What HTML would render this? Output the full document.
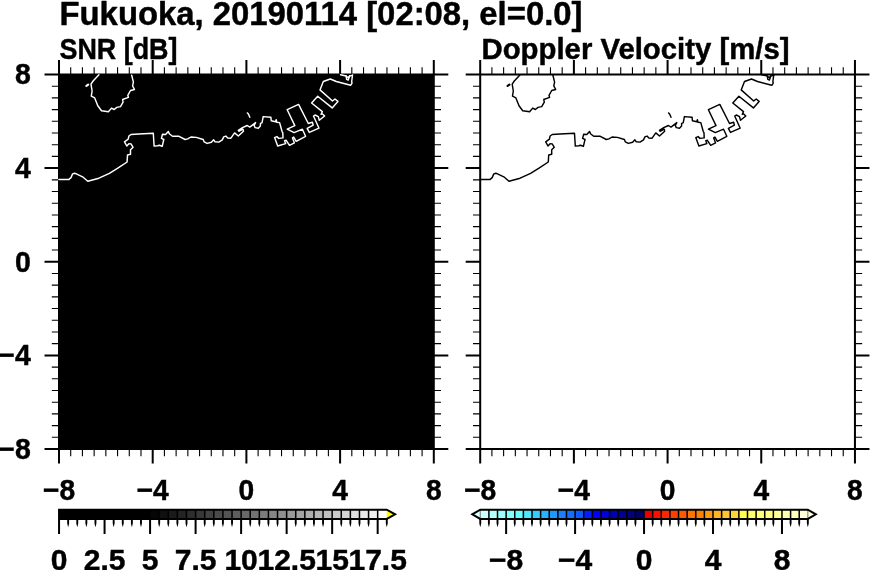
<!DOCTYPE html>
<html><head><meta charset="utf-8"><title>Fukuoka radar</title>
<style>
html,body{margin:0;padding:0;background:#fff;}
body{width:870px;height:570px;overflow:hidden;font-family:"Liberation Sans",sans-serif;}
svg{display:block;}
svg{will-change:transform;}
</style></head><body>
<svg width="870" height="570" viewBox="0 0 870 570">
<rect width="870" height="570" fill="#fff"/>
<rect x="59.00" y="74.50" width="374.80" height="374.50" fill="#000"/><path d="M70.71 74.50V67.30M70.71 449.00V456.20M59.00 86.20H51.80M433.80 86.20H441.00M82.42 74.50V67.30M82.42 449.00V456.20M59.00 97.91H51.80M433.80 97.91H441.00M94.14 74.50V67.30M94.14 449.00V456.20M59.00 109.61H51.80M433.80 109.61H441.00M105.85 74.50V67.30M105.85 449.00V456.20M59.00 121.31H51.80M433.80 121.31H441.00M117.56 74.50V67.30M117.56 449.00V456.20M59.00 133.02H51.80M433.80 133.02H441.00M129.28 74.50V67.30M129.28 449.00V456.20M59.00 144.72H51.80M433.80 144.72H441.00M140.99 74.50V67.30M140.99 449.00V456.20M59.00 156.42H51.80M433.80 156.42H441.00M164.41 74.50V67.30M164.41 449.00V456.20M59.00 179.83H51.80M433.80 179.83H441.00M176.12 74.50V67.30M176.12 449.00V456.20M59.00 191.53H51.80M433.80 191.53H441.00M187.84 74.50V67.30M187.84 449.00V456.20M59.00 203.23H51.80M433.80 203.23H441.00M199.55 74.50V67.30M199.55 449.00V456.20M59.00 214.94H51.80M433.80 214.94H441.00M211.26 74.50V67.30M211.26 449.00V456.20M59.00 226.64H51.80M433.80 226.64H441.00M222.97 74.50V67.30M222.97 449.00V456.20M59.00 238.34H51.80M433.80 238.34H441.00M234.69 74.50V67.30M234.69 449.00V456.20M59.00 250.05H51.80M433.80 250.05H441.00M258.11 74.50V67.30M258.11 449.00V456.20M59.00 273.45H51.80M433.80 273.45H441.00M269.83 74.50V67.30M269.83 449.00V456.20M59.00 285.16H51.80M433.80 285.16H441.00M281.54 74.50V67.30M281.54 449.00V456.20M59.00 296.86H51.80M433.80 296.86H441.00M293.25 74.50V67.30M293.25 449.00V456.20M59.00 308.56H51.80M433.80 308.56H441.00M304.96 74.50V67.30M304.96 449.00V456.20M59.00 320.27H51.80M433.80 320.27H441.00M316.68 74.50V67.30M316.68 449.00V456.20M59.00 331.97H51.80M433.80 331.97H441.00M328.39 74.50V67.30M328.39 449.00V456.20M59.00 343.67H51.80M433.80 343.67H441.00M351.81 74.50V67.30M351.81 449.00V456.20M59.00 367.08H51.80M433.80 367.08H441.00M363.53 74.50V67.30M363.53 449.00V456.20M59.00 378.78H51.80M433.80 378.78H441.00M375.24 74.50V67.30M375.24 449.00V456.20M59.00 390.48H51.80M433.80 390.48H441.00M386.95 74.50V67.30M386.95 449.00V456.20M59.00 402.19H51.80M433.80 402.19H441.00M398.66 74.50V67.30M398.66 449.00V456.20M59.00 413.89H51.80M433.80 413.89H441.00M410.38 74.50V67.30M410.38 449.00V456.20M59.00 425.59H51.80M433.80 425.59H441.00M422.09 74.50V67.30M422.09 449.00V456.20M59.00 437.30H51.80M433.80 437.30H441.00" stroke="#000" stroke-width="1.1" fill="none"/><path d="M59.00 74.50V60.00M59.00 449.00V463.50M59.00 74.50H44.50M433.80 74.50H448.30M152.70 74.50V60.00M152.70 449.00V463.50M59.00 168.12H44.50M433.80 168.12H448.30M246.40 74.50V60.00M246.40 449.00V463.50M59.00 261.75H44.50M433.80 261.75H448.30M340.10 74.50V60.00M340.10 449.00V463.50M59.00 355.38H44.50M433.80 355.38H448.30M433.80 74.50V60.00M433.80 449.00V463.50M59.00 449.00H44.50M433.80 449.00H448.30" stroke="#000" stroke-width="2" fill="none"/><rect x="59.00" y="74.50" width="374.80" height="374.50" fill="none" stroke="#000" stroke-width="2"/><path d="M491.91 74.50V67.30M491.91 449.00V456.20M480.20 86.20H473.00M854.95 86.20H862.15M503.62 74.50V67.30M503.62 449.00V456.20M480.20 97.91H473.00M854.95 97.91H862.15M515.33 74.50V67.30M515.33 449.00V456.20M480.20 109.61H473.00M854.95 109.61H862.15M527.04 74.50V67.30M527.04 449.00V456.20M480.20 121.31H473.00M854.95 121.31H862.15M538.75 74.50V67.30M538.75 449.00V456.20M480.20 133.02H473.00M854.95 133.02H862.15M550.47 74.50V67.30M550.47 449.00V456.20M480.20 144.72H473.00M854.95 144.72H862.15M562.18 74.50V67.30M562.18 449.00V456.20M480.20 156.42H473.00M854.95 156.42H862.15M585.60 74.50V67.30M585.60 449.00V456.20M480.20 179.83H473.00M854.95 179.83H862.15M597.31 74.50V67.30M597.31 449.00V456.20M480.20 191.53H473.00M854.95 191.53H862.15M609.02 74.50V67.30M609.02 449.00V456.20M480.20 203.23H473.00M854.95 203.23H862.15M620.73 74.50V67.30M620.73 449.00V456.20M480.20 214.94H473.00M854.95 214.94H862.15M632.44 74.50V67.30M632.44 449.00V456.20M480.20 226.64H473.00M854.95 226.64H862.15M644.15 74.50V67.30M644.15 449.00V456.20M480.20 238.34H473.00M854.95 238.34H862.15M655.86 74.50V67.30M655.86 449.00V456.20M480.20 250.05H473.00M854.95 250.05H862.15M679.29 74.50V67.30M679.29 449.00V456.20M480.20 273.45H473.00M854.95 273.45H862.15M691.00 74.50V67.30M691.00 449.00V456.20M480.20 285.16H473.00M854.95 285.16H862.15M702.71 74.50V67.30M702.71 449.00V456.20M480.20 296.86H473.00M854.95 296.86H862.15M714.42 74.50V67.30M714.42 449.00V456.20M480.20 308.56H473.00M854.95 308.56H862.15M726.13 74.50V67.30M726.13 449.00V456.20M480.20 320.27H473.00M854.95 320.27H862.15M737.84 74.50V67.30M737.84 449.00V456.20M480.20 331.97H473.00M854.95 331.97H862.15M749.55 74.50V67.30M749.55 449.00V456.20M480.20 343.67H473.00M854.95 343.67H862.15M772.97 74.50V67.30M772.97 449.00V456.20M480.20 367.08H473.00M854.95 367.08H862.15M784.68 74.50V67.30M784.68 449.00V456.20M480.20 378.78H473.00M854.95 378.78H862.15M796.40 74.50V67.30M796.40 449.00V456.20M480.20 390.48H473.00M854.95 390.48H862.15M808.11 74.50V67.30M808.11 449.00V456.20M480.20 402.19H473.00M854.95 402.19H862.15M819.82 74.50V67.30M819.82 449.00V456.20M480.20 413.89H473.00M854.95 413.89H862.15M831.53 74.50V67.30M831.53 449.00V456.20M480.20 425.59H473.00M854.95 425.59H862.15M843.24 74.50V67.30M843.24 449.00V456.20M480.20 437.30H473.00M854.95 437.30H862.15" stroke="#000" stroke-width="1.1" fill="none"/><path d="M480.20 74.50V60.00M480.20 449.00V463.50M480.20 74.50H465.70M854.95 74.50H869.45M573.89 74.50V60.00M573.89 449.00V463.50M480.20 168.12H465.70M854.95 168.12H869.45M667.58 74.50V60.00M667.58 449.00V463.50M480.20 261.75H465.70M854.95 261.75H869.45M761.26 74.50V60.00M761.26 449.00V463.50M480.20 355.38H465.70M854.95 355.38H869.45M854.95 74.50V60.00M854.95 449.00V463.50M480.20 449.00H465.70M854.95 449.00H869.45" stroke="#000" stroke-width="2" fill="none"/><rect x="480.20" y="74.50" width="374.75" height="374.50" fill="none" stroke="#000" stroke-width="2"/><g fill="none" stroke="#fff" stroke-width="1.45" stroke-linejoin="round" stroke-linecap="round"><polyline points="98.9,74.7 93.1,81.0 91.0,84.2 92.1,91.0 91.3,96.1 94.7,97.9 97.8,105.8 101.5,110.8 108.4,111.8 111.5,108.1 114.2,109.5 116.8,107.4 120.5,106.6 123.1,102.1 122.6,99.5 128.4,97.4 127.8,95.3 130.5,90.5 134.5,89.5 132.6,85.8 133.4,82.1 131.7,75.3"/><polyline points="58.9,179.4 68.9,179.4 71.0,177.6 72.6,173.9 74.7,173.2 82.6,176.8 87.8,181.3 98.9,178.2 109.4,173.4 117.8,168.2 127.1,162.0 127.5,155.0 130.5,154.3 130.5,149.7 133.1,147.3 131.0,143.9 128.9,143.7 126.8,146.0 124.5,141.8 128.2,139.2 128.9,136.0 131.0,134.5 138.8,134.0 153.3,133.3 154.1,146.1 157.7,145.8 159.3,145.3 162.2,146.3 163.8,139.5 161.4,138.4 162.5,134.2 165.6,134.5 168.3,131.4 169.3,133.7 172.5,136.3 178.6,136.1 185.1,139.5 187.7,138.9 190.9,137.0 196.2,137.4 203.2,139.5 204.1,141.8 207.2,143.4 211.4,142.3 213.7,139.8 215.1,141.8 218.8,142.1 222.3,139.9 223.7,136.9 225.8,136.1 227.7,138.1 230.9,138.2 234.6,132.9 238.3,136.0 243.5,131.3 243.0,129.2 238.8,131.3 238.3,130.3 242.5,127.6 247.2,125.5 249.8,127.1 255.6,122.6 254.1,125.5 255.1,127.6 258.3,128.2 260.4,126.0 260.4,123.4 262.0,122.9 263.2,116.6 270.9,117.3 271.2,120.8 275.6,121.8 276.2,119.7 276.7,122.2 279.6,122.6 282.0,131.3 282.8,132.9 283.0,137.9 278.8,138.4 276.9,136.6 274.6,137.6 277.7,146.0 285.6,143.6 284.6,140.8 286.2,140.3 289.5,145.3 294.4,142.9 292.5,137.9 293.7,137.1 296.2,141.3 305.6,136.3 302.4,129.2 294.1,132.6 287.2,129.2 294.8,125.6 287.2,109.7 298.6,104.4 308.3,123.5 312.4,122.3 313.2,125.2 307.2,128.3 309.3,132.4 319.0,128.2 313.5,116.0 315.1,115.0 318.3,116.6 319.3,120.3 324.6,116.0 322.5,113.9 321.1,114.3 322.3,111.6 311.6,103.0 317.7,96.2 332.2,107.9 337.9,101.4 335.0,99.0 332.5,101.0 320.0,89.9 323.3,81.5 330.3,79.0 336.3,81.5 350.6,85.3 352.0,83.2 351.7,81.5 352.5,75.0"/><polyline points="247.4,112.9 248.4,114.0 249.8,117.3"/><polyline points="340.5,74.7 346.1,76.0 346.6,79.4 348.2,80.1 349.6,76.0 352.4,75.4"/><polyline points="346.1,76.0 348.1,77.8 349.6,76.0"/><polyline stroke-width="2.2" points="86.4,85.9 88.2,84.7"/></g><g fill="none" stroke="#000" stroke-width="1.45" stroke-linejoin="round" stroke-linecap="round"><polyline points="520.1,74.7 514.3,81.0 512.2,84.2 513.3,91.0 512.5,96.1 515.9,97.9 519.0,105.8 522.7,110.8 529.6,111.8 532.7,108.1 535.4,109.5 538.0,107.4 541.7,106.6 544.3,102.1 543.8,99.5 549.6,97.4 549.0,95.3 551.7,90.5 555.7,89.5 553.8,85.8 554.6,82.1 552.9,75.3"/><polyline points="480.1,179.4 490.1,179.4 492.2,177.6 493.8,173.9 495.9,173.2 503.8,176.8 509.0,181.3 520.1,178.2 530.6,173.4 539.0,168.2 548.3,162.0 548.7,155.0 551.7,154.3 551.7,149.7 554.3,147.3 552.2,143.9 550.1,143.7 548.0,146.0 545.7,141.8 549.4,139.2 550.1,136.0 552.2,134.5 560.0,134.0 574.5,133.3 575.3,146.1 578.9,145.8 580.5,145.3 583.4,146.3 585.0,139.5 582.6,138.4 583.7,134.2 586.8,134.5 589.5,131.4 590.5,133.7 593.7,136.3 599.8,136.1 606.3,139.5 608.9,138.9 612.1,137.0 617.4,137.4 624.4,139.5 625.3,141.8 628.4,143.4 632.6,142.3 634.9,139.8 636.3,141.8 640.0,142.1 643.5,139.9 644.9,136.9 647.0,136.1 648.9,138.1 652.1,138.2 655.8,132.9 659.5,136.0 664.7,131.3 664.2,129.2 660.0,131.3 659.5,130.3 663.7,127.6 668.4,125.5 671.0,127.1 676.8,122.6 675.3,125.5 676.3,127.6 679.5,128.2 681.6,126.0 681.6,123.4 683.2,122.9 684.4,116.6 692.1,117.3 692.4,120.8 696.8,121.8 697.4,119.7 697.9,122.2 700.8,122.6 703.2,131.3 704.0,132.9 704.2,137.9 700.0,138.4 698.1,136.6 695.8,137.6 698.9,146.0 706.8,143.6 705.8,140.8 707.4,140.3 710.7,145.3 715.6,142.9 713.7,137.9 714.9,137.1 717.4,141.3 726.8,136.3 723.6,129.2 715.3,132.6 708.4,129.2 716.0,125.6 708.4,109.7 719.8,104.4 729.5,123.5 733.6,122.3 734.4,125.2 728.4,128.3 730.5,132.4 740.2,128.2 734.7,116.0 736.3,115.0 739.5,116.6 740.5,120.3 745.8,116.0 743.7,113.9 742.3,114.3 743.5,111.6 732.8,103.0 738.9,96.2 753.4,107.9 759.1,101.4 756.2,99.0 753.7,101.0 741.2,89.9 744.5,81.5 751.5,79.0 757.5,81.5 771.8,85.3 773.2,83.2 772.9,81.5 773.7,75.0"/><polyline points="668.6,112.9 669.6,114.0 671.0,117.3"/><polyline points="761.7,74.7 767.3,76.0 767.8,79.4 769.4,80.1 770.8,76.0 773.6,75.4"/><polyline points="767.3,76.0 769.3,77.8 770.8,76.0"/><polyline stroke-width="2.2" points="507.6,85.9 509.4,84.7"/></g><text transform="translate(59.00,499.50) scale(0.9400,1)" font-size="30.0" text-anchor="middle" font-family="Liberation Sans, sans-serif" font-weight="bold" stroke="#000" stroke-width="0.45" stroke-linejoin="round">−8</text><text transform="translate(152.70,499.50) scale(0.9400,1)" font-size="30.0" text-anchor="middle" font-family="Liberation Sans, sans-serif" font-weight="bold" stroke="#000" stroke-width="0.45" stroke-linejoin="round">−4</text><text transform="translate(246.40,499.50) scale(0.9400,1)" font-size="30.0" text-anchor="middle" font-family="Liberation Sans, sans-serif" font-weight="bold" stroke="#000" stroke-width="0.45" stroke-linejoin="round">0</text><text transform="translate(340.10,499.50) scale(0.9400,1)" font-size="30.0" text-anchor="middle" font-family="Liberation Sans, sans-serif" font-weight="bold" stroke="#000" stroke-width="0.45" stroke-linejoin="round">4</text><text transform="translate(433.80,499.50) scale(0.9400,1)" font-size="30.0" text-anchor="middle" font-family="Liberation Sans, sans-serif" font-weight="bold" stroke="#000" stroke-width="0.45" stroke-linejoin="round">8</text><text transform="translate(480.20,499.50) scale(0.9400,1)" font-size="30.0" text-anchor="middle" font-family="Liberation Sans, sans-serif" font-weight="bold" stroke="#000" stroke-width="0.45" stroke-linejoin="round">−8</text><text transform="translate(573.89,499.50) scale(0.9400,1)" font-size="30.0" text-anchor="middle" font-family="Liberation Sans, sans-serif" font-weight="bold" stroke="#000" stroke-width="0.45" stroke-linejoin="round">−4</text><text transform="translate(667.58,499.50) scale(0.9400,1)" font-size="30.0" text-anchor="middle" font-family="Liberation Sans, sans-serif" font-weight="bold" stroke="#000" stroke-width="0.45" stroke-linejoin="round">0</text><text transform="translate(761.26,499.50) scale(0.9400,1)" font-size="30.0" text-anchor="middle" font-family="Liberation Sans, sans-serif" font-weight="bold" stroke="#000" stroke-width="0.45" stroke-linejoin="round">4</text><text transform="translate(854.95,499.50) scale(0.9400,1)" font-size="30.0" text-anchor="middle" font-family="Liberation Sans, sans-serif" font-weight="bold" stroke="#000" stroke-width="0.45" stroke-linejoin="round">8</text><text transform="translate(30.80,84.30) scale(0.9500,1)" font-size="30.0" text-anchor="end" font-family="Liberation Sans, sans-serif" font-weight="bold" stroke="#000" stroke-width="0.45" stroke-linejoin="round">8</text><text transform="translate(30.80,177.93) scale(0.9500,1)" font-size="30.0" text-anchor="end" font-family="Liberation Sans, sans-serif" font-weight="bold" stroke="#000" stroke-width="0.45" stroke-linejoin="round">4</text><text transform="translate(30.80,271.55) scale(0.9500,1)" font-size="30.0" text-anchor="end" font-family="Liberation Sans, sans-serif" font-weight="bold" stroke="#000" stroke-width="0.45" stroke-linejoin="round">0</text><text transform="translate(30.80,365.18) scale(0.9500,1)" font-size="30.0" text-anchor="end" font-family="Liberation Sans, sans-serif" font-weight="bold" stroke="#000" stroke-width="0.45" stroke-linejoin="round">−4</text><text transform="translate(30.80,458.80) scale(0.9500,1)" font-size="30.0" text-anchor="end" font-family="Liberation Sans, sans-serif" font-weight="bold" stroke="#000" stroke-width="0.45" stroke-linejoin="round">−8</text><text transform="translate(59.50,25.20) scale(1.0000,1)" font-size="33.0" text-anchor="start" font-family="Liberation Sans, sans-serif" font-weight="bold" stroke="#000" stroke-width="0.45" stroke-linejoin="round" textLength="523.0" lengthAdjust="spacingAndGlyphs">Fukuoka, 20190114 [02:08, el=0.0]</text><text transform="translate(59.50,58.50) scale(1.0000,1)" font-size="30.0" text-anchor="start" font-family="Liberation Sans, sans-serif" font-weight="bold" stroke="#000" stroke-width="0.45" stroke-linejoin="round" textLength="118.0" lengthAdjust="spacingAndGlyphs">SNR [dB]</text><text transform="translate(481.50,58.50) scale(1.0000,1)" font-size="30.0" text-anchor="start" font-family="Liberation Sans, sans-serif" font-weight="bold" stroke="#000" stroke-width="0.45" stroke-linejoin="round" textLength="308.0" lengthAdjust="spacingAndGlyphs">Doppler Velocity [m/s]</text><rect x="59.05" y="509.70" width="9.40" height="9.25" fill="#000000"/><rect x="68.15" y="509.70" width="9.40" height="9.25" fill="#000000"/><rect x="77.26" y="509.70" width="9.40" height="9.25" fill="#000000"/><rect x="86.36" y="509.70" width="9.40" height="9.25" fill="#000000"/><rect x="95.46" y="509.70" width="9.40" height="9.25" fill="#000000"/><rect x="104.57" y="509.70" width="9.40" height="9.25" fill="#000000"/><rect x="113.67" y="509.70" width="9.40" height="9.25" fill="#000000"/><rect x="122.77" y="509.70" width="9.40" height="9.25" fill="#000000"/><rect x="131.88" y="509.70" width="9.40" height="9.25" fill="#000000"/><rect x="140.98" y="509.70" width="9.40" height="9.25" fill="#000000"/><rect x="150.08" y="509.70" width="9.40" height="9.25" fill="#060606"/><rect x="159.19" y="509.70" width="9.40" height="9.25" fill="#101010"/><rect x="168.29" y="509.70" width="9.40" height="9.25" fill="#1a1a1a"/><rect x="177.40" y="509.70" width="9.40" height="9.25" fill="#232323"/><rect x="186.50" y="509.70" width="9.40" height="9.25" fill="#2d2d2d"/><rect x="195.60" y="509.70" width="9.40" height="9.25" fill="#373737"/><rect x="204.71" y="509.70" width="9.40" height="9.25" fill="#414141"/><rect x="213.81" y="509.70" width="9.40" height="9.25" fill="#4b4b4b"/><rect x="222.91" y="509.70" width="9.40" height="9.25" fill="#545454"/><rect x="232.02" y="509.70" width="9.40" height="9.25" fill="#5e5e5e"/><rect x="241.12" y="509.70" width="9.40" height="9.25" fill="#686868"/><rect x="250.22" y="509.70" width="9.40" height="9.25" fill="#727272"/><rect x="259.33" y="509.70" width="9.40" height="9.25" fill="#7c7c7c"/><rect x="268.43" y="509.70" width="9.40" height="9.25" fill="#858585"/><rect x="277.53" y="509.70" width="9.40" height="9.25" fill="#8f8f8f"/><rect x="286.64" y="509.70" width="9.40" height="9.25" fill="#999999"/><rect x="295.74" y="509.70" width="9.40" height="9.25" fill="#a3a3a3"/><rect x="304.84" y="509.70" width="9.40" height="9.25" fill="#adadad"/><rect x="313.95" y="509.70" width="9.40" height="9.25" fill="#b6b6b6"/><rect x="323.05" y="509.70" width="9.40" height="9.25" fill="#c0c0c0"/><rect x="332.16" y="509.70" width="9.40" height="9.25" fill="#cacaca"/><rect x="341.26" y="509.70" width="9.40" height="9.25" fill="#d4d4d4"/><rect x="350.36" y="509.70" width="9.40" height="9.25" fill="#dedede"/><rect x="359.47" y="509.70" width="9.40" height="9.25" fill="#e7e7e7"/><rect x="368.57" y="509.70" width="9.40" height="9.25" fill="#f1f1f1"/><rect x="377.67" y="509.70" width="9.40" height="9.25" fill="#fbfbfb"/><path d="M386.78 509.70L395.08 514.33L386.78 518.95Z" fill="#ffff00"/><path d="M68.15 509.70V518.95M77.26 509.70V518.95M86.36 509.70V518.95M95.46 509.70V518.95M104.57 509.70V518.95M113.67 509.70V518.95M122.77 509.70V518.95M131.88 509.70V518.95M140.98 509.70V518.95M150.08 509.70V518.95M159.19 509.70V518.95M168.29 509.70V518.95M177.40 509.70V518.95M186.50 509.70V518.95M195.60 509.70V518.95M204.71 509.70V518.95M213.81 509.70V518.95M222.91 509.70V518.95M232.02 509.70V518.95M241.12 509.70V518.95M250.22 509.70V518.95M259.33 509.70V518.95M268.43 509.70V518.95M277.53 509.70V518.95M286.64 509.70V518.95M295.74 509.70V518.95M304.84 509.70V518.95M313.95 509.70V518.95M323.05 509.70V518.95M332.16 509.70V518.95M341.26 509.70V518.95M350.36 509.70V518.95M359.47 509.70V518.95M368.57 509.70V518.95M377.67 509.70V518.95" stroke="#000" stroke-width="1.5" fill="none"/><path d="M59.05 509.70H386.78L395.08 514.33L386.78 518.95H59.05Z" fill="none" stroke="#000" stroke-width="2" stroke-linejoin="miter"/><path d="M67.20 518.95H69.10V523.60L68.15 527.30L67.20 523.60ZM76.31 518.95H78.21V523.60L77.26 527.30L76.31 523.60ZM85.41 518.95H87.31V523.60L86.36 527.30L85.41 523.60ZM94.51 518.95H96.41V523.60L95.46 527.30L94.51 523.60ZM112.72 518.95H114.62V523.60L113.67 527.30L112.72 523.60ZM121.82 518.95H123.72V523.60L122.77 527.30L121.82 523.60ZM130.93 518.95H132.83V523.60L131.88 527.30L130.93 523.60ZM140.03 518.95H141.93V523.60L140.98 527.30L140.03 523.60ZM158.24 518.95H160.14V523.60L159.19 527.30L158.24 523.60ZM167.34 518.95H169.24V523.60L168.29 527.30L167.34 523.60ZM176.45 518.95H178.35V523.60L177.40 527.30L176.45 523.60ZM185.55 518.95H187.45V523.60L186.50 527.30L185.55 523.60ZM203.76 518.95H205.66V523.60L204.71 527.30L203.76 523.60ZM212.86 518.95H214.76V523.60L213.81 527.30L212.86 523.60ZM221.96 518.95H223.86V523.60L222.91 527.30L221.96 523.60ZM231.07 518.95H232.97V523.60L232.02 527.30L231.07 523.60ZM249.27 518.95H251.17V523.60L250.22 527.30L249.27 523.60ZM258.38 518.95H260.28V523.60L259.33 527.30L258.38 523.60ZM267.48 518.95H269.38V523.60L268.43 527.30L267.48 523.60ZM276.58 518.95H278.48V523.60L277.53 527.30L276.58 523.60ZM294.79 518.95H296.69V523.60L295.74 527.30L294.79 523.60ZM303.89 518.95H305.79V523.60L304.84 527.30L303.89 523.60ZM313.00 518.95H314.90V523.60L313.95 527.30L313.00 523.60ZM322.10 518.95H324.00V523.60L323.05 527.30L322.10 523.60ZM340.31 518.95H342.21V523.60L341.26 527.30L340.31 523.60ZM349.41 518.95H351.31V523.60L350.36 527.30L349.41 523.60ZM358.52 518.95H360.42V523.60L359.47 527.30L358.52 523.60ZM367.62 518.95H369.52V523.60L368.57 527.30L367.62 523.60ZM385.83 518.95H387.73V523.60L386.78 527.30L385.83 523.60Z" fill="#000"/><path d="M59.05 518.95V533.90M104.57 518.95V533.90M150.08 518.95V533.90M195.60 518.95V533.90M241.12 518.95V533.90M286.64 518.95V533.90M332.16 518.95V533.90M377.67 518.95V533.90" stroke="#000" stroke-width="2" fill="none"/><text transform="translate(59.05,569.60) scale(1.0000,1)" font-size="30.0" text-anchor="middle" font-family="Liberation Sans, sans-serif" font-weight="bold" stroke="#000" stroke-width="0.45" stroke-linejoin="round">0</text><text transform="translate(104.57,569.60) scale(1.0000,1)" font-size="30.0" text-anchor="middle" font-family="Liberation Sans, sans-serif" font-weight="bold" stroke="#000" stroke-width="0.45" stroke-linejoin="round">2.5</text><text transform="translate(150.08,569.60) scale(1.0000,1)" font-size="30.0" text-anchor="middle" font-family="Liberation Sans, sans-serif" font-weight="bold" stroke="#000" stroke-width="0.45" stroke-linejoin="round">5</text><text transform="translate(195.60,569.60) scale(1.0000,1)" font-size="30.0" text-anchor="middle" font-family="Liberation Sans, sans-serif" font-weight="bold" stroke="#000" stroke-width="0.45" stroke-linejoin="round">7.5</text><text transform="translate(241.12,569.60) scale(1.0000,1)" font-size="30.0" text-anchor="middle" font-family="Liberation Sans, sans-serif" font-weight="bold" stroke="#000" stroke-width="0.45" stroke-linejoin="round">10</text><text transform="translate(286.64,569.60) scale(1.0000,1)" font-size="30.0" text-anchor="middle" font-family="Liberation Sans, sans-serif" font-weight="bold" stroke="#000" stroke-width="0.45" stroke-linejoin="round">12.5</text><text transform="translate(332.16,569.60) scale(1.0000,1)" font-size="30.0" text-anchor="middle" font-family="Liberation Sans, sans-serif" font-weight="bold" stroke="#000" stroke-width="0.45" stroke-linejoin="round">15</text><text transform="translate(377.67,569.60) scale(1.0000,1)" font-size="30.0" text-anchor="middle" font-family="Liberation Sans, sans-serif" font-weight="bold" stroke="#000" stroke-width="0.45" stroke-linejoin="round">17.5</text><rect x="480.27" y="509.70" width="8.92" height="9.25" fill="#ccffff"/><rect x="488.89" y="509.70" width="8.92" height="9.25" fill="#b3ffff"/><rect x="497.51" y="509.70" width="8.92" height="9.25" fill="#99ffff"/><rect x="506.13" y="509.70" width="8.92" height="9.25" fill="#80ffff"/><rect x="514.75" y="509.70" width="8.92" height="9.25" fill="#66ffff"/><rect x="523.37" y="509.70" width="8.92" height="9.25" fill="#4de6ff"/><rect x="531.99" y="509.70" width="8.92" height="9.25" fill="#33ccff"/><rect x="540.61" y="509.70" width="8.92" height="9.25" fill="#26b3ff"/><rect x="549.23" y="509.70" width="8.92" height="9.25" fill="#1a99ff"/><rect x="557.85" y="509.70" width="8.92" height="9.25" fill="#1a80ff"/><rect x="566.47" y="509.70" width="8.92" height="9.25" fill="#146eff"/><rect x="575.09" y="509.70" width="8.92" height="9.25" fill="#0d5aff"/><rect x="583.71" y="509.70" width="8.92" height="9.25" fill="#001eff"/><rect x="592.33" y="509.70" width="8.92" height="9.25" fill="#0000ff"/><rect x="600.95" y="509.70" width="8.92" height="9.25" fill="#0000d9"/><rect x="609.57" y="509.70" width="8.92" height="9.25" fill="#0000b3"/><rect x="618.19" y="509.70" width="8.92" height="9.25" fill="#000099"/><rect x="626.81" y="509.70" width="8.92" height="9.25" fill="#000080"/><rect x="635.43" y="509.70" width="8.92" height="9.25" fill="#000066"/><rect x="644.05" y="509.70" width="8.92" height="9.25" fill="#e60000"/><rect x="652.67" y="509.70" width="8.92" height="9.25" fill="#ff0d00"/><rect x="661.29" y="509.70" width="8.92" height="9.25" fill="#ff2600"/><rect x="669.91" y="509.70" width="8.92" height="9.25" fill="#ff4000"/><rect x="678.53" y="509.70" width="8.92" height="9.25" fill="#ff5900"/><rect x="687.15" y="509.70" width="8.92" height="9.25" fill="#ff7300"/><rect x="695.77" y="509.70" width="8.92" height="9.25" fill="#ff8000"/><rect x="704.39" y="509.70" width="8.92" height="9.25" fill="#ff9912"/><rect x="713.01" y="509.70" width="8.92" height="9.25" fill="#ffb326"/><rect x="721.63" y="509.70" width="8.92" height="9.25" fill="#ffc633"/><rect x="730.25" y="509.70" width="8.92" height="9.25" fill="#ffd633"/><rect x="738.87" y="509.70" width="8.92" height="9.25" fill="#ffff4d"/><rect x="747.49" y="509.70" width="8.92" height="9.25" fill="#ffff66"/><rect x="756.11" y="509.70" width="8.92" height="9.25" fill="#ffff73"/><rect x="764.73" y="509.70" width="8.92" height="9.25" fill="#ffff80"/><rect x="773.35" y="509.70" width="8.92" height="9.25" fill="#ffff99"/><rect x="781.97" y="509.70" width="8.92" height="9.25" fill="#ffffb3"/><rect x="790.59" y="509.70" width="8.92" height="9.25" fill="#ffffbf"/><rect x="799.21" y="509.70" width="8.92" height="9.25" fill="#ffffd9"/><path d="M480.27 509.70L472.27 514.33L480.27 518.95Z" fill="#e0ffff"/><path d="M807.83 509.70L815.83 514.33L807.83 518.95Z" fill="#ffffe6"/><path d="M488.89 509.70V518.95M497.51 509.70V518.95M506.13 509.70V518.95M514.75 509.70V518.95M523.37 509.70V518.95M531.99 509.70V518.95M540.61 509.70V518.95M549.23 509.70V518.95M557.85 509.70V518.95M566.47 509.70V518.95M575.09 509.70V518.95M583.71 509.70V518.95M592.33 509.70V518.95M600.95 509.70V518.95M609.57 509.70V518.95M618.19 509.70V518.95M626.81 509.70V518.95M635.43 509.70V518.95M644.05 509.70V518.95M652.67 509.70V518.95M661.29 509.70V518.95M669.91 509.70V518.95M678.53 509.70V518.95M687.15 509.70V518.95M695.77 509.70V518.95M704.39 509.70V518.95M713.01 509.70V518.95M721.63 509.70V518.95M730.25 509.70V518.95M738.87 509.70V518.95M747.49 509.70V518.95M756.11 509.70V518.95M764.73 509.70V518.95M773.35 509.70V518.95M781.97 509.70V518.95M790.59 509.70V518.95M799.21 509.70V518.95" stroke="#000" stroke-width="1.5" fill="none"/><path d="M480.27 509.70V518.95M807.83 509.70V518.95" stroke="#000" stroke-opacity="0.45" stroke-width="1.2" fill="none"/><path d="M480.27 509.70H807.83L815.83 514.33L807.83 518.95H480.27L472.27 514.33Z" fill="none" stroke="#000" stroke-width="2" stroke-linejoin="miter"/><path d="M479.32 518.95H481.22V523.60L480.27 527.30L479.32 523.60ZM487.94 518.95H489.84V523.60L488.89 527.30L487.94 523.60ZM496.56 518.95H498.46V523.60L497.51 527.30L496.56 523.60ZM513.80 518.95H515.70V523.60L514.75 527.30L513.80 523.60ZM522.42 518.95H524.32V523.60L523.37 527.30L522.42 523.60ZM531.04 518.95H532.94V523.60L531.99 527.30L531.04 523.60ZM539.66 518.95H541.56V523.60L540.61 527.30L539.66 523.60ZM548.28 518.95H550.18V523.60L549.23 527.30L548.28 523.60ZM556.90 518.95H558.80V523.60L557.85 527.30L556.90 523.60ZM565.52 518.95H567.42V523.60L566.47 527.30L565.52 523.60ZM582.76 518.95H584.66V523.60L583.71 527.30L582.76 523.60ZM591.38 518.95H593.28V523.60L592.33 527.30L591.38 523.60ZM600.00 518.95H601.90V523.60L600.95 527.30L600.00 523.60ZM608.62 518.95H610.52V523.60L609.57 527.30L608.62 523.60ZM617.24 518.95H619.14V523.60L618.19 527.30L617.24 523.60ZM625.86 518.95H627.76V523.60L626.81 527.30L625.86 523.60ZM634.48 518.95H636.38V523.60L635.43 527.30L634.48 523.60ZM651.72 518.95H653.62V523.60L652.67 527.30L651.72 523.60ZM660.34 518.95H662.24V523.60L661.29 527.30L660.34 523.60ZM668.96 518.95H670.86V523.60L669.91 527.30L668.96 523.60ZM677.58 518.95H679.48V523.60L678.53 527.30L677.58 523.60ZM686.20 518.95H688.10V523.60L687.15 527.30L686.20 523.60ZM694.82 518.95H696.72V523.60L695.77 527.30L694.82 523.60ZM703.44 518.95H705.34V523.60L704.39 527.30L703.44 523.60ZM720.68 518.95H722.58V523.60L721.63 527.30L720.68 523.60ZM729.30 518.95H731.20V523.60L730.25 527.30L729.30 523.60ZM737.92 518.95H739.82V523.60L738.87 527.30L737.92 523.60ZM746.54 518.95H748.44V523.60L747.49 527.30L746.54 523.60ZM755.16 518.95H757.06V523.60L756.11 527.30L755.16 523.60ZM763.78 518.95H765.68V523.60L764.73 527.30L763.78 523.60ZM772.40 518.95H774.30V523.60L773.35 527.30L772.40 523.60ZM789.64 518.95H791.54V523.60L790.59 527.30L789.64 523.60ZM798.26 518.95H800.16V523.60L799.21 527.30L798.26 523.60ZM806.88 518.95H808.78V523.60L807.83 527.30L806.88 523.60Z" fill="#000"/><path d="M506.13 518.95V533.90M575.09 518.95V533.90M644.05 518.95V533.90M713.01 518.95V533.90M781.97 518.95V533.90" stroke="#000" stroke-width="2" fill="none"/><text transform="translate(506.13,569.60) scale(1.0000,1)" font-size="30.0" text-anchor="middle" font-family="Liberation Sans, sans-serif" font-weight="bold" stroke="#000" stroke-width="0.45" stroke-linejoin="round">−8</text><text transform="translate(575.09,569.60) scale(1.0000,1)" font-size="30.0" text-anchor="middle" font-family="Liberation Sans, sans-serif" font-weight="bold" stroke="#000" stroke-width="0.45" stroke-linejoin="round">−4</text><text transform="translate(644.05,569.60) scale(1.0000,1)" font-size="30.0" text-anchor="middle" font-family="Liberation Sans, sans-serif" font-weight="bold" stroke="#000" stroke-width="0.45" stroke-linejoin="round">0</text><text transform="translate(713.01,569.60) scale(1.0000,1)" font-size="30.0" text-anchor="middle" font-family="Liberation Sans, sans-serif" font-weight="bold" stroke="#000" stroke-width="0.45" stroke-linejoin="round">4</text><text transform="translate(781.97,569.60) scale(1.0000,1)" font-size="30.0" text-anchor="middle" font-family="Liberation Sans, sans-serif" font-weight="bold" stroke="#000" stroke-width="0.45" stroke-linejoin="round">8</text>
</svg>
</body></html>
